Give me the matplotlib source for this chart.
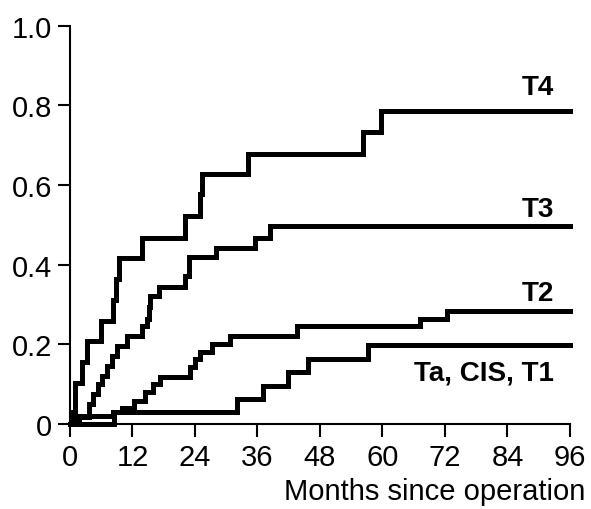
import matplotlib.pyplot as plt

plt.rcParams['font.family'] = ['Liberation Sans', 'DejaVu Sans']

# cumulative incidence step curves (months, value)
t4_x = [0, 0.5, 1.0, 2.3, 3.2, 5.9, 8.2, 8.8, 9.4, 13.8, 22.1, 24.9, 25.3, 34.2, 56.2, 59.8, 96]
t4_y = [0, 0.03, 0.103, 0.155, 0.208, 0.259, 0.312, 0.364, 0.416, 0.468, 0.523, 0.577, 0.627, 0.677, 0.732, 0.786, 0.786]

t3_x = [0, 1.8, 3.7, 4.5, 5.4, 6.1, 7.1, 8.1, 9.0, 10.9, 13.8, 14.8, 15.1, 15.4, 17.0, 22.1, 22.8, 28.1, 35.5, 38.4, 96]
t3_y = [0, 0.017, 0.05, 0.075, 0.1, 0.121, 0.146, 0.171, 0.196, 0.22, 0.245, 0.263, 0.293, 0.322, 0.345, 0.372, 0.418, 0.443, 0.468, 0.496, 0.496]

t2_x = [0, 1.6, 8.3, 9.9, 12.2, 14.4, 16.0, 17.3, 23.0, 24.0, 25.0, 27.2, 30.7, 43.6, 67.2, 72.3, 96]
t2_y = [0, 0.019, 0.03, 0.04, 0.058, 0.08, 0.1, 0.118, 0.142, 0.163, 0.181, 0.2, 0.222, 0.245, 0.263, 0.283, 0.283]

t1_x = [0, 8.5, 32.0, 37.0, 41.9, 45.7, 57.3, 96]
t1_y = [0, 0.031, 0.063, 0.096, 0.13, 0.163, 0.198, 0.198]

curves = [(t4_x, t4_y), (t3_x, t3_y), (t2_x, t2_y), (t1_x, t1_y)]
labels = ["T4", "T3", "T2", "Ta, CIS, T1"]
label_y = [0.845, 0.54, 0.33, 0.13]

xticks = [0, 12, 24, 36, 48, 60, 72, 84, 96]
yticks = [0, 0.2, 0.4, 0.6, 0.8, 1.0]
ytick_labels = ["0", "0.2", "0.4", "0.6", "0.8", "1.0"]

fig = plt.figure(figsize=(5.91, 5.10), dpi=100)
ax = fig.add_axes([0.1184, 0.1667, 0.846, 0.781])

for (xs, ys) in curves:
    ax.step(xs, ys, where="post", color="black", lw=3.6, clip_on=False,
            solid_joinstyle="miter")

for lab, ly in zip(labels, label_y):
    ax.text(93.0, ly, lab, ha="right", va="center", fontsize=20, fontweight="bold")

ax.set_xlim(0, 96)
ax.set_ylim(0, 1.0)
ax.set_xticks(xticks)
ax.set_xticklabels([str(v) for v in xticks])
ax.set_yticks(yticks)
ax.set_yticklabels(ytick_labels)
ax.tick_params(labelsize=21, width=1.5, length=9, colors="black")
ax.tick_params(axis="y", pad=4)
ax.tick_params(axis="x", pad=5)
for s in ["top", "right"]:
    ax.spines[s].set_visible(False)
for s in ["left", "bottom"]:
    ax.spines[s].set_linewidth(1.5)

fig.text(0.99, 0.035, "Months since operation", ha="right", va="center", fontsize=21)

fig.savefig("out.png", dpi=100)
